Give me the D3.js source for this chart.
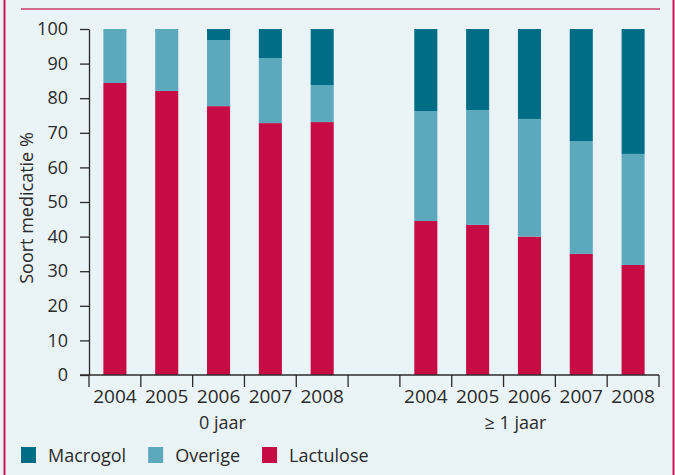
<!DOCTYPE html>
<html>
<head>
    <title>soort medicatie</title>
    <script type="text/javascript" src="https://cdn.jsdelivr.net/npm/d3@7/dist/d3.min.js"></script>
    <style type="text/css">
        body { margin: 0; }
        svg { display: block; background: #eaf3f6; }
        text { font-family: "Open Sans", sans-serif; fill: #2b2b2b; }
        .axis path, .axis line { stroke: #2b2b2b; stroke-width: 1.3px; }
    </style>
</head>
<body>
    <svg id="chart" width="675" height="475"></svg>

<script type="text/javascript">

    // categories: two age groups, five years each, one empty slot between
    let years = ["2004", "2005", "2006", "2007", "2008"];
    let groups = ["0 jaar", "\u2265 1 jaar"];
    let series = ["Macrogol", "Overige", "Lactulose"];

    // percentages per group, in year order
    let lactulose0 = [84.4, 82.1, 77.7, 72.8, 73.1];
    let overige0   = [15.6, 17.9, 19.1, 18.8, 10.7];
    let macrogol0  = [0, 0, 3.2, 8.4, 16.2];

    let lactulose1 = [44.5, 43.4, 40.0, 35.0, 31.8];
    let overige1   = [31.8, 33.2, 34.0, 32.6, 32.1];
    let macrogol1  = [23.7, 23.4, 26.0, 32.4, 36.1];

    let yTicks = [0, 10, 20, 30, 40, 50, 60, 70, 80, 90, 100];

    let colors = {Macrogol: "#006d87", Overige: "#5ca8bd", Lactulose: "#c70c45"};

    let rows = [];
    years.forEach(function(yr, i) {
        rows.push({key: "a" + yr, year: yr, Lactulose: lactulose0[i], Overige: overige0[i], Macrogol: macrogol0[i]});
    });
    rows.push({key: "gap", year: "", Lactulose: 0, Overige: 0, Macrogol: 0});
    years.forEach(function(yr, i) {
        rows.push({key: "b" + yr, year: yr, Lactulose: lactulose1[i], Overige: overige1[i], Macrogol: macrogol1[i]});
    });

    let svg = d3.select("#chart");

    // frame
    svg.append("line").attr("x1", 4.5).attr("x2", 4.5).attr("y1", 0).attr("y2", 475)
        .attr("stroke", "#c8175a").attr("stroke-width", 2);
    svg.append("line").attr("x1", 673.5).attr("x2", 673.5).attr("y1", 0).attr("y2", 475)
        .attr("stroke", "#c8175a").attr("stroke-width", 2);
    svg.append("line").attr("x1", 21).attr("x2", 660).attr("y1", 9).attr("y2", 9)
        .attr("stroke", "#cc3a6a").attr("stroke-width", 1.6);

    let x = d3.scaleBand()
        .domain(rows.map(d => d.key))
        .range([89, 659])
        .paddingInner(0.555)
        .paddingOuter(0.2775);

    let y = d3.scaleLinear().domain([0, 100]).range([375, 29]);

    let stack = d3.stack().keys(["Lactulose", "Overige", "Macrogol"]);
    let layers = stack(rows.filter(d => d.key !== "gap"));

    svg.append("g").selectAll("g")
        .data(layers)
        .join("g")
        .attr("fill", d => colors[d.key])
        .selectAll("rect")
        .data(d => d)
        .join("rect")
        .attr("x", d => x(d.data.key))
        .attr("width", x.bandwidth())
        .attr("y", d => y(d[1]))
        .attr("height", d => y(d[0]) - y(d[1]));

    // y axis
    let yAxis = svg.append("g")
        .attr("class", "axis")
        .attr("transform", "translate(89,0)")
        .call(d3.axisLeft(y).tickValues(yTicks).tickSize(9).tickSizeOuter(0).tickPadding(12));
    yAxis.selectAll("text").style("font-size", "18px").attr("fill", "#2b2b2b");

    // x axis: line plus ticks at band boundaries
    let step = x.step();
    let x0 = x.range()[0];
    let xAxis = svg.append("g").attr("class", "axis");
    xAxis.append("line").attr("x1", 80).attr("x2", x.range()[1]).attr("y1", y(0)).attr("y2", y(0));
    xAxis.selectAll("line.tick")
        .data(d3.range(rows.length + 1))
        .join("line")
        .attr("class", "tick")
        .attr("x1", i => x0 + i * step).attr("x2", i => x0 + i * step)
        .attr("y1", y(0)).attr("y2", y(0) + 12);

    svg.append("g").selectAll("text")
        .data(rows.filter(d => d.year !== ""))
        .join("text")
        .attr("x", d => x(d.key) + x.bandwidth() / 2)
        .attr("y", 403)
        .attr("text-anchor", "middle")
        .style("font-size", "19px")
        .text(d => d.year);

    svg.append("text")
        .attr("x", x("a2006") + x.bandwidth() / 2 + 4)
        .attr("y", 429)
        .attr("text-anchor", "middle")
        .style("font-size", "18px")
        .text(groups[0]);
    svg.append("text")
        .attr("x", x("b2006") + x.bandwidth() / 2 - 14)
        .attr("y", 429)
        .attr("text-anchor", "middle")
        .style("font-size", "18px")
        .text(groups[1]);

    svg.append("text")
        .attr("transform", "translate(33,208) rotate(-90)")
        .attr("text-anchor", "middle")
        .style("font-size", "18px")
        .text("Soort medicatie %");

    // legend
    let lx = 21;
    series.forEach(function(s) {
        svg.append("rect").attr("x", lx).attr("y", 447).attr("width", 15).attr("height", 16)
            .attr("fill", colors[s]);
        let t = svg.append("text").attr("x", lx + 27).attr("y", 462)
            .style("font-size", "18px").text(s);
        lx = lx + 27 + t.node().getComputedTextLength() + 22;
    });
</script>
</body>
</html>
